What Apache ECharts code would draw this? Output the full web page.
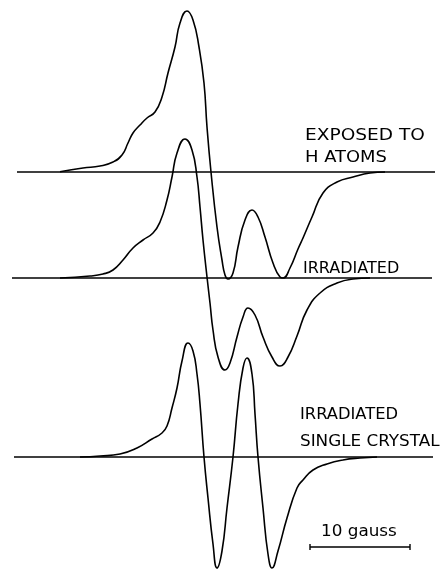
<!DOCTYPE html>
<html>
<head>
<meta charset="utf-8">
<script src="https://cdn.jsdelivr.net/npm/echarts@6/dist/echarts.min.js"></script>
<style>html,body{margin:0;padding:0;background:#fff;}#c{width:448px;height:569px;}</style>
</head>
<body>
<div id="c"></div>
<script>
// Field in gauss, signal in arbitrary units relative to each trace's own baseline
const fieldTop = [6.0, 8.3, 10.0, 11.3, 12.2, 12.8, 13.3, 14.0, 14.7, 15.5, 16.2, 16.8, 17.5, 18.0, 18.7, 19.3, 19.9, 20.4, 20.7, 21.1, 21.7, 22.2, 22.5, 22.8, 23.3, 23.8, 24.5, 25.2, 25.8, 26.5, 27.3, 28.0, 28.3, 29.0, 29.8, 30.3, 31.2, 32.3, 33.7, 35.3, 37.0, 38.5];
const signalTop = [0.3, 4, 6, 10, 17, 29, 39, 47, 54, 60, 75, 99, 125, 149, 161, 152, 125, 89, 45, 0, -55, -88, -103, -107, -101, -75, -48, -38, -45, -65, -91, -105, -106, -96, -77, -66, -45, -21, -10, -5, -1, 0];

const fieldMid = [6.0, 9.0, 10.3, 11.3, 12.3, 13.3, 14.3, 15.3, 16.0, 16.7, 17.2, 17.7, 18.5, 19.2, 19.7, 20.0, 20.3, 20.7, 21.0, 21.3, 21.8, 22.5, 23.0, 23.7, 24.3, 24.8, 25.5, 26.3, 27.2, 28.0, 28.8, 29.7, 30.7, 32.0, 33.7, 35.3, 37.0];
const signalMid = [0, 2, 4, 8, 18, 30, 38, 45, 56, 78, 101, 125, 139, 128, 101, 71, 38, 1, -25, -52, -79, -92, -85, -59, -39, -30, -37, -59, -79, -88, -79, -58, -32, -15, -5, -1, 0];

const fieldBot = [8.0, 10.0, 12.0, 13.7, 15.2, 16.2, 16.7, 17.2, 17.7, 18.2, 18.8, 19.3, 19.7, 20.0, 20.4, 20.8, 21.3, 21.7, 22.2, 22.7, 23.3, 23.8, 24.3, 24.7, 25.2, 25.5, 25.8, 26.3, 26.8, 27.2, 27.8, 28.7, 29.7, 30.3, 31.3, 32.7, 34.3, 36.0, 37.7];
const signalBot = [0, 1, 3, 9, 18, 24, 31, 49, 69, 96, 114, 106, 83, 53, 0, -41, -87, -111, -94, -51, 0, 53, 89, 99, 83, 43, 0, -51, -97, -111, -94, -61, -31, -23, -13, -7, -3, -1, 0];

const traceOffsets = [285, 179, 0];          // vertical offsets of the three traces
const baselineSpans = [[1.7, 43.5], [1.2, 43.2], [1.4, 43.3]];
const traceLabels = [["EXPOSED TO", "H ATOMS"], ["IRRADIATED"], ["IRRADIATED", "SINGLE CRYSTAL"]];
const scaleBarGauss = 10;
const scaleBarStart = 31.0;
const scaleBarLevel = -90;
const scaleBarLabel = "10 gauss";

const chart = echarts.init(document.getElementById('c'), null, {renderer: 'canvas'});

function zip(xs, ys, off) { return xs.map((x, i) => [x, ys[i] + off]); }

const lineStyle = {color: '#000', width: 1.6};
const series = [];
baselineSpans.forEach((s, i) => {
  series.push({type: 'line', data: [[s[0], traceOffsets[i]], [s[1], traceOffsets[i]]], symbol: 'none',
    lineStyle: {color: '#000', width: 1.5}, silent: true, z: 2});
});
[[fieldTop, signalTop], [fieldMid, signalMid], [fieldBot, signalBot]].forEach((p, i) => {
  series.push({type: 'line', data: zip(p[0], p[1], traceOffsets[i]), symbol: 'none', smooth: 0.5,
    smoothMonotone: 'none', lineStyle: lineStyle, silent: true, clip: true, z: 3});
});
const sb0 = scaleBarStart, sb1 = scaleBarStart + scaleBarGauss, lv = scaleBarLevel;
series.push({type: 'line', symbol: 'none', silent: true, lineStyle: {color: '#000', width: 1.4},
  data: [[sb0, lv + 3], [sb0, lv - 3], [sb0, lv], [sb1, lv], [sb1, lv + 3], [sb1, lv - 3]]});

const font = 'normal 400 16px "DejaVu Sans"';
function txt(t, x, y, sx) {
  return {type: 'text', x: x, y: y, scaleX: sx || 1, silent: true,
    style: {text: t, font: font, fill: '#000', verticalAlign: 'middle', align: 'left'}};
}

chart.setOption({
  animation: false,
  backgroundColor: '#fff',
  grid: {left: 0, right: 0, top: 0, bottom: 0},
  xAxis: {type: 'value', min: 0, max: 44.8, show: false},
  yAxis: {type: 'value', min: -112, max: 457, show: false},
  series: series,
  graphic: [
    txt(traceLabels[0][0], 305, 136, 1.16),
    txt(traceLabels[0][1], 305, 157.5, 1.12),
    txt(traceLabels[1][0], 303, 269, 1.0),
    txt(traceLabels[2][0], 300, 415, 1.02),
    txt(traceLabels[2][1], 300, 442, 1.05),
    txt(scaleBarLabel, 321, 532, 1.05)
  ]
});
</script>
</body>
</html>
